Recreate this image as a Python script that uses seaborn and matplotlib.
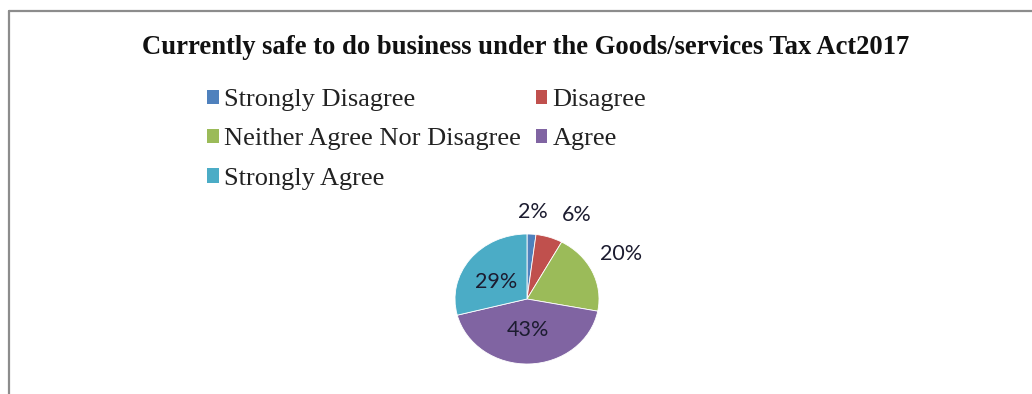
import matplotlib
matplotlib.use("Agg")
import matplotlib.pyplot as plt
import seaborn as sns
import numpy as np
from matplotlib.patches import Patch
from matplotlib.lines import Line2D
from matplotlib.font_manager import FontProperties

categories = ["Strongly Disagree", "Disagree", "Neither Agree Nor Disagree", "Agree", "Strongly Agree"]
values = [2, 6, 20, 43, 29]
pct_labels = ["2%", "6%", "20%", "43%", "29%"]
colors = ["#4F81BD", "#C0504D", "#9BBB59", "#8064A2", "#4BACC6"]
title = "Currently safe to do business under the Goods/services Tax Act2017"

sns.set_theme(style="white")
plt.rcParams['font.family'] = ['Liberation Serif', 'DejaVu Serif']

W, H = 1032, 394
fig = plt.figure(figsize=(W / 100, H / 100), dpi=100)
fig.patch.set_facecolor("white")

# frame (top and left edges)
fig.add_artist(Line2D([8.5 / W, 8.5 / W], [0, 1 - 10.5 / H], transform=fig.transFigure, color="#8c8c8c", lw=1.6))
fig.add_artist(Line2D([8.5 / W, 1], [1 - 10.5 / H, 1 - 10.5 / H], transform=fig.transFigure, color="#8c8c8c", lw=1.6))

fig.text(526 / W, 1 - 47 / H, title, ha="center", va="center",
         fontproperties=FontProperties(family=["Liberation Serif"], weight="bold", size=19.2),
         color="#111111")

ax = fig.add_axes([455 / W, (H - 299 - 65) / H, 144 / W, 130 / H])
pal = sns.color_palette(colors)
wedges, _ = ax.pie(values, colors=pal, startangle=90, counterclock=False, radius=1,
                   wedgeprops=dict(linewidth=0.6, edgecolor="white"))
ax.set_aspect("auto")
ax.set_xlim(-1, 1)
ax.set_ylim(-1, 1)
ax.axis("off")

label_dist = [1.34, 1.47, 1.48, 0.48, 0.5]
label_shift = [0, -10, 3, 0, 6]
lab_font = FontProperties(family=["Lato", "DejaVu Sans"], size=15.5)
for w, lab, d, s in zip(wedges, pct_labels, label_dist, label_shift):
    ang = np.deg2rad((w.theta1 + w.theta2) / 2 + s)
    ax.text(d * np.cos(ang), d * np.sin(ang), lab, ha="center", va="center",
            fontproperties=lab_font, color="#1c1c30", clip_on=False)

order = [0, 2, 4, 1, 3]
handles = [Patch(facecolor=colors[i], edgecolor="none") for i in order]
labels = [categories[i] for i in order]
leg_font = FontProperties(family=["Liberation Serif"], size=19)
leg = fig.legend(handles, labels, ncol=2, loc="upper left",
                 bbox_to_anchor=(207 / W, 1 - 89 / H), frameon=False,
                 prop=leg_font,
                 handlelength=0.45, handleheight=0.45, handletextpad=0.2,
                 columnspacing=0.55, labelspacing=0.66, borderpad=0, borderaxespad=0)
for t in leg.get_texts():
    t.set_color("#222222")
    t.set_fontproperties(leg_font)

fig.savefig("out.png", dpi=100, facecolor="white")
